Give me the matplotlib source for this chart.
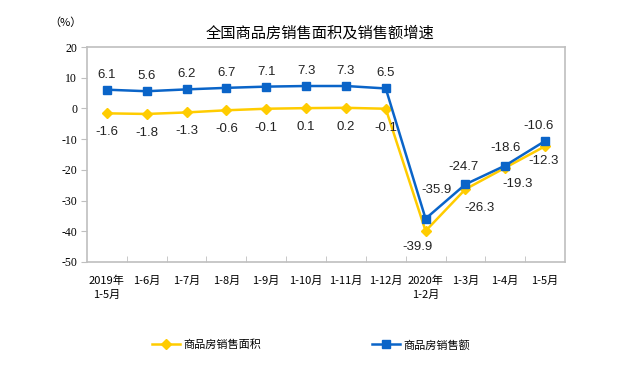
import matplotlib
matplotlib.use('Agg')
import matplotlib.pyplot as plt
import numpy as np

plt.rcParams['font.family'] = ['Noto Sans CJK SC', 'DejaVu Sans']

categories = ['2019年\n1-5月', '1-6月', '1-7月', '1-8月', '1-9月', '1-10月',
              '1-11月', '1-12月', '2020年\n1-2月', '1-3月', '1-4月', '1-5月']
area = [-1.6, -1.8, -1.3, -0.6, -0.1, 0.1, 0.2, -0.1, -39.9, -26.3, -19.3, -12.3]
sales = [6.1, 5.6, 6.2, 6.7, 7.1, 7.3, 7.3, 6.5, -35.9, -24.7, -18.6, -10.6]
yticks = [20, 10, 0, -10, -20, -30, -40, -50]

# label offsets in image pixels (x right, y down)
area_off = [(0, 19)] * 8 + [(-8, 16), (14, 19), (12, 16), (-2, 15)]
sales_off = [(0, -15)] * 8 + [(11, -29), (-2, -17), (0, -18), (-7, -15)]

blue = '#0A64C8'
yellow = '#FFCC00'

fig = plt.figure(figsize=(6.22, 3.73), dpi=100)
ax = fig.add_axes([87 / 622, 1 - 262 / 373, 478 / 622, 215 / 373])
x = np.arange(len(categories))

ax.plot(x, area, color=yellow, lw=1.8, marker='D', ms=5, label='商品房销售面积')
ax.plot(x, sales, color=blue, lw=1.8, marker='s', ms=5.5, label='商品房销售额')

for i in x:
    for vals, offs in ((area, area_off), (sales, sales_off)):
        ax.annotate('%g' % vals[i], (i, vals[i]), xytext=(offs[i][0], -offs[i][1]),
                    textcoords='offset pixels', ha='center', va='center', fontsize=9.5,
                    family='Liberation Sans', color='#222222')

ax.set_xlim(-0.5, len(categories) - 0.5)
ax.set_ylim(-50, 20)
ax.set_yticks(yticks)
ax.set_yticklabels([str(v) for v in yticks], family='Liberation Serif', fontsize=8.5)
ax.set_xticks(x)
ax.set_xticklabels(categories, fontsize=8, linespacing=1.5)
ax.set_xticks(x[:-1] + 0.5, minor=True)
ax.tick_params(axis='x', which='major', length=0, pad=10)
ax.tick_params(axis='x', which='minor', direction='in', length=4, color='#BFBFBF')
ax.tick_params(axis='y', length=4, color='#BFBFBF', pad=3)
for s in ax.spines.values():
    s.set_color('#BFBFBF')
    s.set_linewidth(1.2)

fig.text(0.514, 1 - 33 / 373, '全国商品房销售面积及销售额增速', ha='center', va='center', fontsize=11)
fig.text(65 / 622, 1 - 23 / 373, '（%）', ha='center', va='center', fontsize=8)

fig.legend(loc='center', bbox_to_anchor=(0.5, 1 - 345 / 373), ncol=2, frameon=False,
           fontsize=8, columnspacing=10, handlelength=2.5, handletextpad=0.3)

fig.savefig('out.png', dpi=100)
